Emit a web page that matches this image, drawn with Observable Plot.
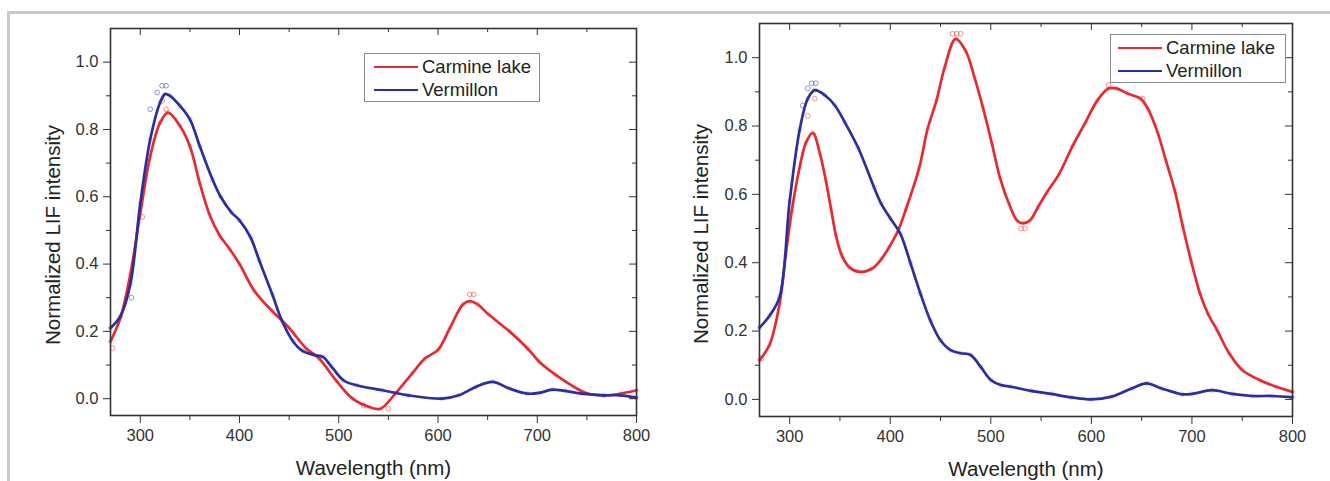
<!DOCTYPE html>
<html>
<head>
<meta charset="utf-8">
<script src="https://cdn.jsdelivr.net/npm/d3@7"></script>
<script src="https://cdn.jsdelivr.net/npm/@observablehq/plot@0.6"></script>
<style>
  html, body { margin: 0; padding: 0; background: #fff; }
  body { width: 1330px; height: 481px; position: relative; overflow: hidden; font-family: "Liberation Sans", Arial, sans-serif; }
  .border { position: absolute; left: 7px; top: 11px; width: 1400px; height: 600px; border-top: 3px solid #c9c9c9; border-left: 3px solid #c9c9c9; }
  .panel { position: absolute; top: 0; }
  .legend { position: absolute; border: 1.5px solid #8a8a8a; background: #fff; box-sizing: border-box; font-size: 18.5px; color: #222; }
  .legend .row { position: absolute; display: flex; align-items: center; white-space: nowrap; }
  .legend .sw { display: inline-block; width: 44px; height: 2.5px; margin-right: 4px; }
</style>
</head>
<body>
<div class="border"></div>
<div id="p1" class="panel" style="left:0"></div>
<div id="p2" class="panel" style="left:665px"></div>
<script>
// ---- Data ----
const seriesNames = ["Carmine lake", "Vermillon"];
const seriesColors = ["#e52b31", "#2b2f9e"];

const xTicks = [300, 400, 500, 600, 700, 800];
const xMinorTicks = [350, 450, 550, 650, 750];
const yTicks = [0.0, 0.2, 0.4, 0.6, 0.8, 1.0];
const yMinorTicks = [0.1, 0.3, 0.5, 0.7, 0.9];
const xLabel = "Wavelength (nm)";
const yLabel = "Normalized LIF intensity";

// Left panel
const leftCarmineNm = [270, 280, 290, 300, 310, 320, 328, 340, 350, 360, 370, 380, 390, 400, 415, 433, 450, 467, 480, 497, 514, 531, 542, 557, 574, 587, 600, 612, 625, 632, 640, 651, 672, 690, 702, 719, 737, 749, 767, 784, 800];
const leftCarmineVal = [0.17, 0.24, 0.37, 0.55, 0.72, 0.82, 0.85, 0.81, 0.75, 0.64, 0.545, 0.485, 0.445, 0.40, 0.32, 0.26, 0.21, 0.15, 0.12, 0.055, 0.0, -0.025, -0.03, 0.015, 0.075, 0.12, 0.145, 0.21, 0.28, 0.29, 0.28, 0.25, 0.20, 0.15, 0.11, 0.07, 0.035, 0.017, 0.01, 0.015, 0.025];
const leftVermNm = [270, 280, 290, 300, 310, 320, 325, 330, 340, 350, 360, 373, 381, 392, 400, 411, 420, 433, 443, 454, 463, 475, 484, 493, 505, 518, 544, 570, 604, 621, 638, 655, 672, 690, 702, 715, 728, 745, 767, 784, 800];
const leftVermVal = [0.21, 0.245, 0.34, 0.58, 0.77, 0.88, 0.905, 0.90, 0.87, 0.83, 0.75, 0.65, 0.60, 0.553, 0.53, 0.48, 0.41, 0.31, 0.23, 0.17, 0.143, 0.13, 0.124, 0.094, 0.054, 0.04, 0.025, 0.01, 0.0, 0.01, 0.035, 0.05, 0.03, 0.015, 0.017, 0.027, 0.023, 0.015, 0.01, 0.01, 0.003];
// stray raw measurement points (open circles) off the fitted curves
const leftCarmineDotNm = [272, 302, 322, 326, 525, 550, 632, 636];
const leftCarmineDotVal = [0.15, 0.54, 0.885, 0.86, -0.02, -0.03, 0.31, 0.31];
const leftVermDotNm = [291, 310, 317, 322, 326];
const leftVermDotVal = [0.30, 0.86, 0.91, 0.93, 0.93];

// Right panel
const rightCarmineNm = [270, 280, 290, 296, 302, 310, 316, 323, 330, 336, 341, 346, 352, 360, 370, 382, 391, 399, 408, 416, 429, 437, 446, 454, 465, 475, 484, 492, 501, 509, 518, 526, 532, 539, 547, 556, 568, 581, 594, 606, 617, 625, 636, 649, 657, 666, 674, 683, 691, 699, 708, 716, 725, 737, 750, 767, 784, 800];
const rightCarmineVal = [0.115, 0.16, 0.28, 0.42, 0.55, 0.68, 0.75, 0.78, 0.72, 0.64, 0.56, 0.48, 0.42, 0.385, 0.373, 0.383, 0.41, 0.446, 0.495, 0.56, 0.68, 0.79, 0.875, 0.97, 1.055, 1.02, 0.94, 0.856, 0.75, 0.65, 0.573, 0.524, 0.515, 0.524, 0.563, 0.607, 0.66, 0.74, 0.81, 0.875, 0.91, 0.91, 0.895, 0.88, 0.846, 0.78, 0.70, 0.61, 0.505, 0.407, 0.31, 0.25, 0.203, 0.135, 0.086, 0.057, 0.037, 0.022];
const rightVermNm = [270, 280, 290, 300, 310, 318, 325, 335, 345, 355, 368, 384, 391, 400, 410, 420, 430, 440, 450, 460, 470, 480, 490, 500, 510, 520, 540, 560, 580, 600, 620, 640, 655, 670, 690, 700, 720, 740, 760, 780, 800];
const rightVermVal = [0.21, 0.245, 0.30, 0.58, 0.79, 0.88, 0.905, 0.89, 0.86, 0.81, 0.737, 0.62, 0.573, 0.53, 0.485, 0.40, 0.31, 0.23, 0.173, 0.144, 0.135, 0.13, 0.095, 0.057, 0.042, 0.037, 0.025, 0.016, 0.006, 0.0, 0.008, 0.032, 0.047, 0.032, 0.015, 0.016, 0.027, 0.016, 0.01, 0.01, 0.006];
const rightCarmineDotNm = [272, 318, 325, 462, 466, 470, 530, 534, 617, 651];
const rightCarmineDotVal = [0.12, 0.83, 0.88, 1.07, 1.07, 1.07, 0.50, 0.50, 0.92, 0.88];
const rightVermDotNm = [313, 318, 322, 326];
const rightVermDotVal = [0.86, 0.91, 0.925, 0.925];

// ---- Build ----
function rows(nm, val, s) { return nm.map((x, i) => ({x, y: val[i], s})); }

function panel(cfg) {
  const {ml, mr, mt, mb, lines, dots, yTitleDx, yTitleDy} = cfg;
  const W = 665, H = 481;
  const fw = W - ml - mr, fh = H - mt - mb;
  const color = {domain: seriesNames, range: seriesColors};
  return Plot.plot({
    width: W, height: H,
    marginLeft: ml, marginRight: mr, marginTop: mt, marginBottom: mb,
    style: {fontFamily: "'Liberation Sans', Arial, sans-serif", fontSize: "16.5px", color: "#333", background: "transparent", overflow: "visible"},
    x: {domain: [270, 800]},
    y: {domain: [-0.05, 1.1]},
    color,
    marks: [
      Plot.dot(dots, {x: "x", y: "y", stroke: "s", r: 2.4, strokeWidth: 1, strokeOpacity: 0.5}),
      Plot.dot(lines, {x: "x", y: "y", stroke: "s", r: 2.2, strokeWidth: 0.8, strokeOpacity: 0.25}),
      Plot.line(lines, {x: "x", y: "y", z: "s", stroke: "s", strokeWidth: 2.7, curve: "catmull-rom"}),
      Plot.axisX(xTicks, {anchor: "bottom", tickSize: 8, tickPadding: 6, tickFormat: d => String(d), label: null, stroke: "#333"}),
      Plot.axisX(xMinorTicks, {anchor: "bottom", tickSize: 5, tickFormat: () => "", label: null, stroke: "#333"}),
      Plot.axisY(yTicks, {anchor: "left", tickSize: 7, tickPadding: 5, tickFormat: d => d.toFixed(1), label: null, stroke: "#333"}),
      Plot.axisY(yMinorTicks, {anchor: "left", tickSize: 4, tickFormat: () => "", label: null, stroke: "#333"}),
      Plot.tickX(xTicks, {x: d => d, insetBottom: fh - 7, stroke: "#333"}),
      Plot.tickX(xMinorTicks, {x: d => d, insetBottom: fh - 4, stroke: "#333"}),
      Plot.tickY(yTicks, {y: d => d, insetLeft: fw - 7, stroke: "#333"}),
      Plot.tickY(yMinorTicks, {y: d => d, insetLeft: fw - 4, stroke: "#333"}),
      Plot.frame({stroke: "#333", strokeWidth: 1.6}),
      Plot.text([xLabel], {frameAnchor: "bottom", textAnchor: "middle", lineAnchor: "middle", dy: 53, fontSize: 20.5, fill: "#222"}),
      Plot.text([yLabel], {frameAnchor: "left", textAnchor: "middle", lineAnchor: "middle", rotate: -90, dx: yTitleDx, dy: yTitleDy, fontSize: 20.5, fill: "#222"})
    ]
  });
}

const leftLines = [...rows(leftCarmineNm, leftCarmineVal, seriesNames[0]), ...rows(leftVermNm, leftVermVal, seriesNames[1])];
const leftDots = [...rows(leftCarmineDotNm, leftCarmineDotVal, seriesNames[0]), ...rows(leftVermDotNm, leftVermDotVal, seriesNames[1])];
const rightLines = [...rows(rightCarmineNm, rightCarmineVal, seriesNames[0]), ...rows(rightVermNm, rightVermVal, seriesNames[1])];
const rightDots = [...rows(rightCarmineDotNm, rightCarmineDotVal, seriesNames[0]), ...rows(rightVermDotNm, rightVermDotVal, seriesNames[1])];

document.getElementById("p1").append(panel({ml: 110, mr: 29, mt: 28, mb: 66, lines: leftLines, dots: leftDots, yTitleDx: -57, yTitleDy: 13}));
document.getElementById("p2").append(panel({ml: 94, mr: 38, mt: 23, mb: 65, lines: rightLines, dots: rightDots, yTitleDx: -58, yTitleDy: 14}));

function legend(left, top, lineX0) {
  const d = document.createElement("div");
  d.className = "legend";
  d.style.left = left + "px"; d.style.top = top + "px";
  d.style.width = "176px"; d.style.height = "49px";
  seriesNames.forEach((name, i) => {
    const r = document.createElement("div");
    r.className = "row";
    r.style.left = lineX0 + "px";
    r.style.top = (2 + i * 23) + "px";
    const sw = document.createElement("span");
    sw.className = "sw";
    sw.style.background = seriesColors[i];
    r.append(sw, document.createTextNode(name));
    d.append(r);
  });
  document.body.append(d);
}
legend(364, 53, 9);
legend(1110, 34, 7);
</script>
</body>
</html>
